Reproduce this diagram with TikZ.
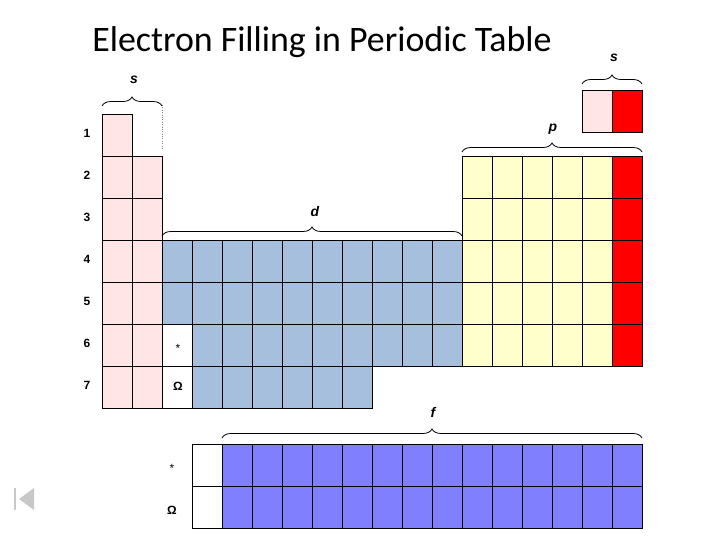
\documentclass[tikz,border=0pt]{standalone}
\usepackage{fontspec}
\setmainfont{Liberation Sans}
\newfontfamily\titlefont{Carlito}
\usetikzlibrary{decorations.pathreplacing}

\definecolor{spink}{RGB}{255,229,229}
\definecolor{sred}{RGB}{255,0,0}
\definecolor{pyellow}{RGB}{255,255,204}
\definecolor{dblue}{RGB}{166,191,221}
\definecolor{fblue}{RGB}{128,128,255}
\definecolor{navgray}{RGB}{200,200,200}

\tikzset{
  cell/.style={draw=black,line width=0.8bp},
  blocklabel/.style={font=\bfseries\itshape\fontsize{14}{14}\selectfont},
  rowlabel/.style={font=\bfseries\fontsize{12}{12}\selectfont},
  marklabel/.style={font=\bfseries\fontsize{12}{12}\selectfont},
  blockbrace/.style={decorate,decoration={brace,amplitude=9bp},line width=0.8bp}
}

\begin{document}
\begin{tikzpicture}[x=1bp,y=-1bp]
  \useasboundingbox (0,0) rectangle (720,540);
  \node[font=\titlefont\fontsize{36}{36}\selectfont] (title) at (322,42) {Electron Filling in Periodic Table};

  % s block
  \draw[cell,fill=spink] (102,114) rectangle (132,156);
  \foreach \r in {2,...,7} \foreach \c in {1,2}
    \draw[cell,fill=spink] ({72+30*\c},{72+42*\r}) rectangle ++(30,42);
  \draw[gray,dotted] (162,105) -- (162,150);
  \draw[cell,fill=spink] (582,90) rectangle (612,132);
  \draw[cell,fill=sred] (612,90) rectangle (642,132);

  % p block
  \foreach \r in {2,...,6} {
    \foreach \c in {13,...,17}
      \draw[cell,fill=pyellow] ({72+30*\c},{72+42*\r}) rectangle ++(30,42);
    \draw[cell,fill=sred] (612,{72+42*\r}) rectangle ++(30,42);
  }

  % d block
  \foreach \r in {4,5} \foreach \c in {3,...,12}
    \draw[cell,fill=dblue] ({72+30*\c},{72+42*\r}) rectangle ++(30,42);
  \foreach \c in {4,...,12}
    \draw[cell,fill=dblue] ({72+30*\c},324) rectangle ++(30,42);
  \foreach \c in {4,...,9}
    \draw[cell,fill=dblue] ({72+30*\c},366) rectangle ++(30,42);
  \draw[cell,fill=white] (162,324) rectangle (192,366);
  \draw[cell,fill=white] (162,366) rectangle (192,408);
  \node[font=\fontsize{12}{12}\selectfont] (lan) at (178,348) {*};
  \node[marklabel] (act) at (178,386) {Ω};

  % f block
  \foreach \y in {444,486} {
    \draw[cell,fill=white] (192,\y) rectangle ++(30,42);
    \foreach \k in {0,...,13}
      \draw[cell,fill=fblue] ({222+30*\k},\y) rectangle ++(30,42);
  }
  \node[font=\fontsize{12}{12}\selectfont] (flan) at (172,468) {*};
  \node[marklabel] (fact) at (172,510) {Ω};

  % row numbers
  \foreach \r in {1,...,7}
    \node[rowlabel] (row\r) at (87,{133+42*(\r-1)}) {\r};

  % braces
  \coordinate (s1L) at (102,106); \coordinate (s1R) at (162,106);
  \coordinate (s2L) at (582,84);  \coordinate (s2R) at (642,84);
  \coordinate (pL) at (462,152);  \coordinate (pR) at (642,152);
  \coordinate (dL) at (162,236);  \coordinate (dR) at (462,236);
  \coordinate (fL) at (222,438);  \coordinate (fR) at (642,438);
  \draw[blockbrace] (s1L) -- (s1R);
  \draw[blockbrace] (s2L) -- (s2R);
  \draw[blockbrace] (pL) -- (pR);
  \draw[blockbrace] (dL) -- (dR);
  \draw[blockbrace] (fL) -- (fR);
  \node[blocklabel] (slab1) at (134,80) {s};
  \node[blocklabel] (slab2) at (614,58) {s};
  \node[blocklabel] (plab) at (553,129) {p};
  \node[blocklabel] (dlab) at (315,212) {d};
  \node[blocklabel] (flab) at (433,412) {f};

  % navigation mark
  \fill[navgray] (14,488) rectangle (16,510);
  \fill[navgray] (34,488) -- (34,510) -- (19,499) -- cycle;
\end{tikzpicture}
\end{document}
